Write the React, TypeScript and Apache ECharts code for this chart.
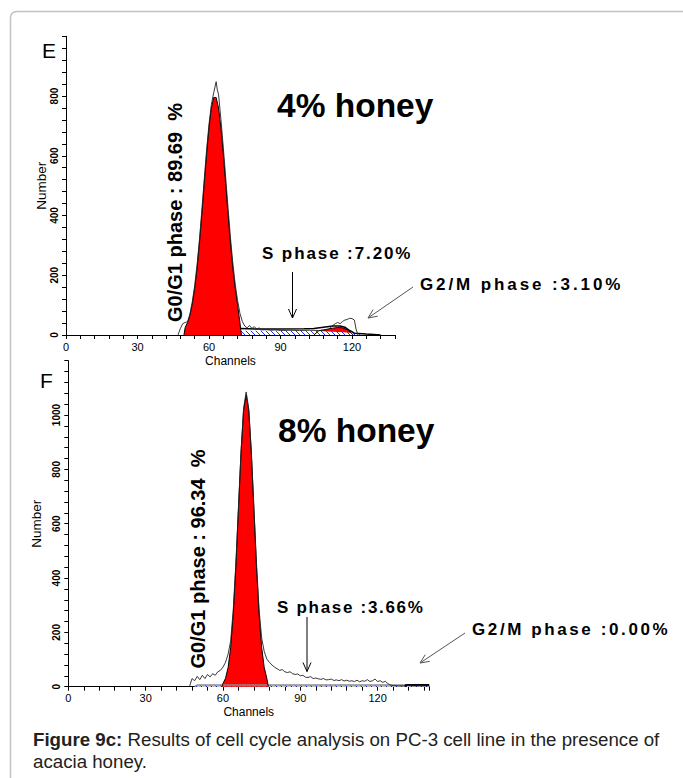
import React, { useEffect, useRef } from 'react';
import * as echarts from 'echarts';

const FONT = '"Liberation Sans", Arial, Helvetica, sans-serif';

// ---- tick labels ----
const xTickLabels = [0, 30, 60, 90, 120];
const yTickLabelsE = [0, 200, 400, 600, 800];
const yTickLabelsF = [0, 200, 400, 600, 800, 1000];

// ---- Panel E (4% honey): [channel, count] ----
const eRaw: [number, number][] = [
  [47, 0], [48, 22], [49, 38], [50, 42], [51, 44], [52, 70], [53, 112], [54, 165], [55, 235], [56, 320],
  [57, 418], [58, 520], [59, 620], [60, 706], [61, 772], [62, 812], [63, 848], [63.5, 820], [64, 806], [65, 722],
  [66, 628], [67, 528], [68, 424], [69, 326], [70, 240], [71, 170], [72, 115], [73, 72], [74, 45], [75, 30],
  [76, 24], [77, 32], [78, 22], [79, 28], [80, 20], [81, 24], [82, 17], [84, 18], [86, 16], [88, 17],
  [90, 15], [94, 16], [98, 15], [102, 16], [106, 15], [108, 16], [110, 18], [111, 25], [112, 32], [113, 38],
  [114, 42], [115, 38], [116, 45], [117, 50], [118, 52], [119, 56], [120, 55], [121, 50], [121.7, 20], [122.5, 0],
];
const eG1Model: [number, number][] = [
  [49.5, 0], [50, 25], [51, 42], [52, 66], [53, 104], [54, 156], [55, 224], [56, 308], [57, 403], [58, 506],
  [59, 606], [60, 694], [61, 760], [62, 795], [63, 795], [64, 760], [65, 694], [66, 606], [67, 506], [68, 403],
  [69, 308], [70, 224], [71, 156], [72, 100], [73, 40], [73.6, 0],
];
const eSModel: [number, number][] = [
  [55, 0], [58, 5], [62, 12], [66, 14], [80, 14], [100, 14], [106, 13], [112, 11], [118, 8], [122, 4], [125, 0],
];
const eG2Model: [number, number][] = [
  [104, 0], [106, 14], [108, 17], [110, 20], [112, 23], [114, 25], [116, 24], [118, 18], [119.5, 8], [120.5, 0],
];
const eSumModel: [number, number][] = [
  [73, 22], [80, 20], [90, 20], [100, 21], [104, 22], [108, 26], [112, 30], [115, 30], [117, 26], [119, 15],
  [121, 6], [126, 3], [132, 0],
];

// ---- Panel F (8% honey) ----
const fRaw: [number, number][] = [
  [47, 0], [48, 30], [49, 22], [50, 38], [51, 26], [52, 42], [53, 30], [54, 45], [55, 36], [56, 48],
  [57, 42], [58, 55], [59, 60], [60, 72], [61, 90], [62, 120], [63, 170], [64, 285], [65, 455], [66, 660],
  [67, 865], [68, 1025], [69, 1085], [70, 1022], [71, 866], [72, 660], [73, 455], [74, 285], [75, 180], [76, 130],
  [77, 102], [78, 90], [79, 80], [80, 72], [81, 66], [82, 60], [83, 63], [84, 55], [85, 52], [86, 55],
  [87, 48], [88, 45], [89, 47], [90, 40], [91, 42], [92, 35], [93, 34], [94, 37], [95, 30], [96, 32],
  [97, 29], [98, 27], [99, 30], [100, 25], [101, 26], [102, 28], [103, 23], [104, 25], [105, 22], [106, 26],
  [107, 21], [108, 24], [109, 20], [110, 22], [111, 19], [112, 24], [113, 18], [114, 22], [115, 20], [116, 26],
  [117, 19], [118, 22], [119, 28], [120, 19], [121, 22], [122, 16], [123, 20], [124, 11], [125, 6], [126, 4],
  [128, 3], [130, 3], [131, 8], [132, 4], [134, 3], [140, 3],
];
const fG1Model: [number, number][] = [
  [59.6, 0], [60, 12], [61, 31], [62, 71], [63, 145], [64, 268], [65, 442], [66, 652], [67, 861], [68, 1017],
  [69, 1075], [70, 1017], [71, 861], [72, 652], [73, 442], [74, 268], [75, 145], [76, 71], [77, 31], [77.6, 0],
];
const fSModel: [number, number][] = [[49, 0], [50, 6], [130, 6], [131, 5], [140, 5]];
const fSumModel: [number, number][] = [[130.5, 0], [131, 6], [140, 6]];

function makeHatch(): HTMLCanvasElement {
  const s = 5;
  const c = document.createElement('canvas');
  c.width = s;
  c.height = s;
  const ctx = c.getContext('2d')!;
  ctx.fillStyle = '#ffffff';
  ctx.fillRect(0, 0, s, s);
  ctx.strokeStyle = '#1a33ff';
  ctx.lineWidth = 1;
  ctx.beginPath();
  ctx.moveTo(-1, -1);
  ctx.lineTo(s + 1, s + 1);
  ctx.stroke();
  return c;
}

function arrow(x1: number, y1: number, x2: number, y2: number, color: string) {
  const dx = x2 - x1;
  const dy = y2 - y1;
  const len = Math.sqrt(dx * dx + dy * dy);
  const ux = dx / len;
  const uy = dy / len;
  const bx = x2 - ux * 9;
  const by = y2 - uy * 9;
  const px = -uy * 4;
  const py = ux * 4;
  return [
    { type: 'line', silent: true, shape: { x1, y1, x2, y2 }, style: { stroke: color, lineWidth: 1 } },
    {
      type: 'polyline', silent: true,
      shape: { points: [[bx + px, by + py], [x2, y2], [bx - px, by - py]] },
      style: { stroke: color, lineWidth: 1, fill: 'none' },
    },
  ];
}

function txt(x: number, y: number, text: string, size: number, bold: boolean, extra: any = {}) {
  return {
    type: 'text', silent: true, x, y, ...extra,
    style: {
      text, fontSize: size, fontWeight: bold ? 'bold' : 'normal', fontFamily: FONT, fill: '#000',
      align: extra.align || 'left', verticalAlign: 'middle',
    },
  };
}

export default function App() {
  const ref = useRef<HTMLDivElement>(null);
  useEffect(() => {
    const el = ref.current!;
    const chart = echarts.init(el, null, { renderer: 'svg' });
    const hatchFill: any = { image: makeHatch(), repeat: 'repeat' };

    const xAxis = (gi: number, max: number, gap: number) => ({
      type: 'value', gridIndex: gi, min: 0, max, interval: 6,
      name: 'Channels', nameLocation: 'middle', nameGap: gap,
      nameTextStyle: { fontSize: 12, fontFamily: FONT, color: '#000' },
      axisLine: { show: true, onZero: false, lineStyle: { color: '#000', width: 1 } },
      axisTick: { show: true, length: 4, lineStyle: { color: '#000', width: 1 } },
      axisLabel: {
        fontSize: 11, fontFamily: FONT, color: '#000', margin: 6,
        formatter: (v: number) => (xTickLabels.includes(v) ? String(v) : ''),
      },
      splitLine: { show: false },
    });
    const yAxis = (gi: number, max: number, labels: number[]) => ({
      type: 'value', gridIndex: gi, min: 0, max, interval: 40,
      name: 'Number', nameLocation: 'middle', nameRotate: 90, nameGap: 13,
      nameTextStyle: { fontSize: 13.5, fontFamily: FONT, color: '#000' },
      axisLine: { show: true, onZero: false, lineStyle: { color: '#000', width: 1 } },
      axisTick: { show: true, length: 4, lineStyle: { color: '#000', width: 1 } },
      axisLabel: {
        rotate: 90, fontSize: 10, fontWeight: 'bold', fontFamily: FONT, color: '#000', margin: 7,
        formatter: (v: number) => (labels.includes(v) ? String(v) : ''),
      },
      splitLine: { show: false },
    });

    const base = { type: 'line', showSymbol: false, symbol: 'none', silent: true, animation: false };
    const area = (gi: number, data: any, fill: any, line: any) => ({
      ...base, xAxisIndex: gi, yAxisIndex: gi, data, lineStyle: line, areaStyle: { color: fill, opacity: 1 },
    });
    const line = (gi: number, data: any, color: string, width: number) => ({
      ...base, xAxisIndex: gi, yAxisIndex: gi, data, lineStyle: { color, width },
    });

    const graphic: any[] = [
      {
        type: 'rect', silent: true, z: -10,
        shape: { x: 10.5, y: 11.5, width: 740, height: 840, r: 6 },
        style: { fill: 'none', stroke: '#c2c2c2', lineWidth: 1.5 },
      },
      txt(42, 50.5, 'E', 21, false),
      txt(40, 380.5, 'F', 21, false),
      txt(277, 105.5, '4% honey', 33.5, true),
      txt(278, 430, '8% honey', 33.5, true),
      txt(174.5, 212.5, 'G0/G1 phase : 89.69  %', 20, true, { rotation: Math.PI / 2, align: 'center' }),
      txt(197.5, 559, 'G0/G1 phase : 96.34  %', 20, true, { rotation: Math.PI / 2, align: 'center' }),
      txt(262, 253.5, 'S phase :7.20%', 17, true),
      txt(420, 284.5, 'G2/M phase :3.10%', 17, true),
      txt(277, 607.5, 'S phase :3.66%', 17, true),
      txt(472, 629.5, 'G2/M phase :0.00%', 17, true),
      ...arrow(292.5, 272, 292.5, 318, '#000'),
      ...arrow(413, 287, 368, 318, '#555'),
      ...arrow(307, 617, 307, 671.5, '#000'),
      ...arrow(465, 633, 420, 663, '#555'),
      {
        type: 'text', silent: true, x: 33, y: 739,
        style: {
          text: '{b|Figure 9c:} Results of cell cycle analysis on PC-3 cell line in the presence of',
          rich: { b: { fontWeight: 'bold', fontSize: 18.7, fontFamily: FONT, fill: '#222' } },
          fontSize: 18.7, fontFamily: FONT, fill: '#222', verticalAlign: 'middle', align: 'left',
        },
      },
      {
        type: 'text', silent: true, x: 33, y: 761,
        style: { text: 'acacia honey.', fontSize: 18.7, fontFamily: FONT, fill: '#222', verticalAlign: 'middle', align: 'left' },
      },
    ];

    chart.setOption({
      animation: false,
      backgroundColor: '#fff',
      grid: [
        { left: 66, top: 36.3, width: 328.9, height: 298.7, outerBoundsMode: 'none', containLabel: false },
        { left: 68.3, top: 360.7, width: 360.9, height: 326, outerBoundsMode: 'none', containLabel: false },
      ],
      xAxis: [xAxis(0, 138, 20), xAxis(1, 140, 19)],
      yAxis: [yAxis(0, 1000, yTickLabelsE), yAxis(1, 1200, yTickLabelsF)],
      series: [
        area(0, eG2Model, '#ff0000', { color: '#000', width: 1 }),
        area(0, eSModel, hatchFill, { width: 0, opacity: 0 }),
        area(0, eG1Model, '#ff0000', { color: '#000', width: 1 }),
        line(0, eSumModel, '#000', 1.5),
        line(0, eRaw, '#222', 0.9),
        area(1, fSModel, hatchFill, { color: '#8a8a8a', width: 1.5 }),
        area(1, fG1Model, '#ff0000', { color: '#000', width: 1 }),
        line(1, fSumModel, '#000', 2),
        line(1, fRaw, '#222', 0.9),
      ],
      graphic,
    });

    const spacing: Record<string, string> = {
      'S phase :7.20%': '1.9px',
      'S phase :3.66%': '1.7px',
      'G2/M phase :3.10%': '2.9px',
      'G2/M phase :0.00%': '2.6px',
    };
    el.querySelectorAll('text').forEach((t) => {
      const s = (t.textContent || '').trim();
      if (spacing[s]) t.setAttribute('letter-spacing', spacing[s]);
    });

    return () => chart.dispose();
  }, []);
  return <div ref={ref} style={{ position: 'absolute', left: 0, top: 0, width: 683, height: 778 }} />;
}
